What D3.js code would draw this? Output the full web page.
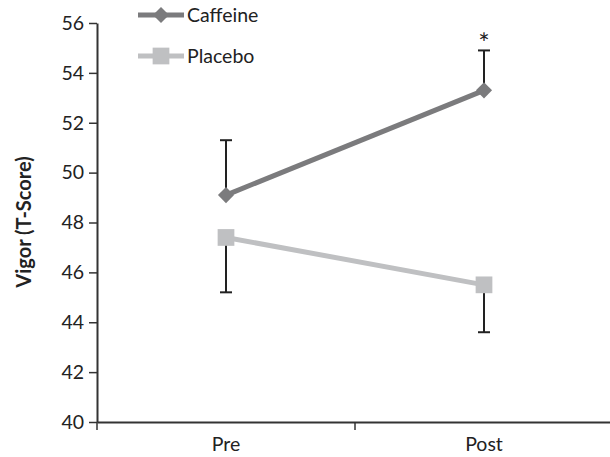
<!DOCTYPE html>
<html>
<head>
<meta charset="utf-8">
<script src="https://cdnjs.cloudflare.com/ajax/libs/d3/7.8.5/d3.min.js"></script>
<style>
  body { margin: 0; background: #fff; }
  text { font-family: Lato, "Open Sans", sans-serif; fill: #222; }
</style>
</head>
<body>
<svg id="chart" width="610" height="457"></svg>
<script>
var times = ['Pre', 'Post'];
var caffeine = [49.1, 53.3];
var caffeineErr = [51.3, 54.9];
var placebo = [47.4, 45.5];
var placeboErr = [45.2, 43.6];
var yTicks = [40, 42, 44, 46, 48, 50, 52, 54, 56];
var marked = [false, true];

var svg = d3.select('#chart');
var colCaf = '#7b7b7d', colPla = '#bfc0c2';

var x = d3.scaleBand().domain(times).range([97, 613]);
var y = d3.scaleLinear().domain([40, 56]).range([422, 23]);
var cx = function(d, i) { return x(times[i]) + x.bandwidth() / 2; };

// axes
var ya = svg.append('g').attr('transform', 'translate(97,0)')
  .call(d3.axisLeft(y).tickValues(yTicks).tickSize(8).tickSizeOuter(0).tickPadding(5));
ya.select('.domain').attr('stroke', '#333').attr('stroke-width', 2);
ya.selectAll('.tick line').attr('stroke', '#333').attr('stroke-width', 1.5);
ya.selectAll('.tick text').style('font-size', '19.5px').attr('fill', '#222');

var xa = svg.append('g').attr('transform', 'translate(0,422)')
  .call(d3.axisBottom(x).tickSize(0).tickPadding(15));
xa.select('.domain').attr('stroke', '#333').attr('stroke-width', 2);
xa.selectAll('.tick text').style('font-size', '19.5px').attr('fill', '#222');
// boundary ticks between categories
xa.selectAll('.btick').data([97, x('Post')]).enter().append('line')
  .attr('x1', function(d) { return d; }).attr('x2', function(d) { return d; })
  .attr('y1', 0).attr('y2', 8).attr('stroke', '#333').attr('stroke-width', 1.5);

svg.append('text').attr('transform', 'translate(31,222) rotate(-90)')
  .attr('text-anchor', 'middle').style('font-size', '20px').style('font-weight', 'bold')
  .text('Vigor (T-Score)');

// error bars
function errBars(vals, errs) {
  var g = svg.append('g').attr('stroke', '#222').attr('stroke-width', 2);
  g.selectAll('line.v').data(vals).enter().append('line')
    .attr('x1', cx).attr('x2', cx)
    .attr('y1', function(d) { return y(d); })
    .attr('y2', function(d, i) { return y(errs[i]); });
  g.selectAll('line.c').data(errs).enter().append('line')
    .attr('x1', function(d, i) { return cx(d, i) - 6; })
    .attr('x2', function(d, i) { return cx(d, i) + 6; })
    .attr('y1', function(d) { return y(d); }).attr('y2', function(d) { return y(d); });
}
errBars(caffeine, caffeineErr);
errBars(placebo, placeboErr);

var line = d3.line().x(cx).y(function(d) { return y(d); });
svg.append('path').datum(placebo).attr('d', line)
  .attr('fill', 'none').attr('stroke', colPla).attr('stroke-width', 5);
svg.append('path').datum(caffeine).attr('d', line)
  .attr('fill', 'none').attr('stroke', colCaf).attr('stroke-width', 5);

var diamond = d3.symbol().type(d3.symbolSquare).size(130);
var square = d3.symbol().type(d3.symbolSquare).size(280);

svg.selectAll('.pm').data(placebo).enter().append('path')
  .attr('d', square).attr('fill', colPla)
  .attr('transform', function(d, i) { return 'translate(' + cx(d, i) + ',' + y(d) + ')'; });
svg.selectAll('.cm').data(caffeine).enter().append('path')
  .attr('d', diamond).attr('fill', colCaf)
  .attr('transform', function(d, i) { return 'translate(' + cx(d, i) + ',' + y(d) + ') rotate(45)'; });

// significance marker
svg.selectAll('.star').data(caffeineErr.filter(function(d, i) { return marked[i]; })).enter()
  .append('text')
  .attr('x', cx(0, 1)).attr('y', function(d) { return y(d) + 3; })
  .attr('text-anchor', 'middle').style('font-size', '27px').text('*');

// legend
var legend = [{name: 'Caffeine', c: colCaf, sym: diamond, rot: 45, y: 15},
              {name: 'Placebo', c: colPla, sym: square, rot: 0, y: 56}];
var lg = svg.selectAll('.lg').data(legend).enter().append('g')
  .attr('transform', function(d) { return 'translate(0,' + d.y + ')'; });
lg.append('line').attr('x1', 138).attr('x2', 184).attr('y1', 0).attr('y2', 0)
  .attr('stroke', function(d) { return d.c; }).attr('stroke-width', 5);
lg.append('path').attr('d', function(d) { return d.sym(); }).attr('fill', function(d) { return d.c; })
  .attr('transform', function(d) { return 'translate(161,0) rotate(' + d.rot + ')'; });
lg.append('text').attr('x', 187).attr('y', 7).style('font-size', '19.5px')
  .text(function(d) { return d.name; });
</script>
</body>
</html>
